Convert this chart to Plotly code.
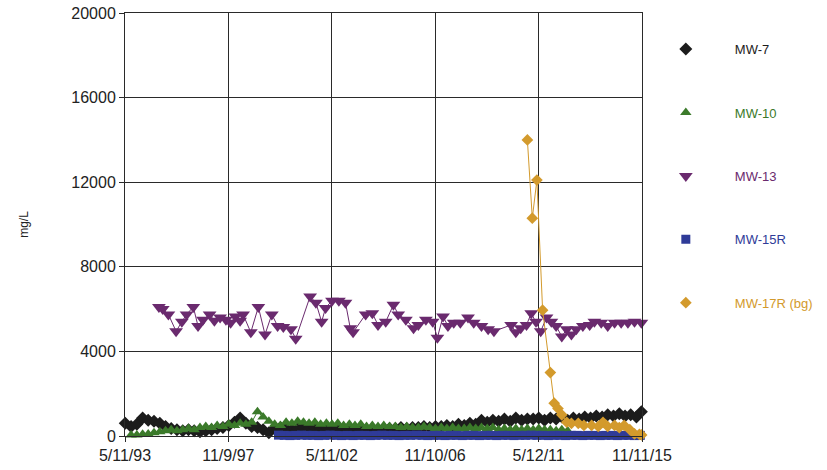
import plotly.graph_objects as go

# ---------------- data ----------------
mw7_dates = [
    "1993-05-15", "1993-08-15", "1993-11-15",
    "1994-02-15", "1994-05-15", "1994-08-15", "1994-11-15",
    "1995-02-15", "1995-05-15", "1995-08-15", "1995-11-15",
    "1996-02-15", "1996-05-15", "1996-08-15", "1996-11-15",
    "1997-02-15", "1997-05-15", "1997-08-15", "1997-11-15",
    "1998-02-15", "1998-05-15", "1998-08-15", "1998-11-15",
    "1999-02-15", "1999-05-15", "1999-08-15", "1999-11-15",
    "2000-02-15", "2000-05-15", "2000-08-15", "2000-11-15",
    "2001-02-15", "2001-05-15", "2001-08-15", "2001-11-15",
    "2002-02-15", "2002-05-15", "2002-08-15", "2002-11-15",
    "2003-02-15", "2003-05-15", "2003-08-15", "2003-11-15",
    "2004-02-15", "2004-05-15", "2004-08-15", "2004-11-15",
    "2005-02-15", "2005-05-15", "2005-08-15", "2005-11-15",
    "2006-02-15", "2006-05-15", "2006-08-15", "2006-11-15",
    "2007-02-15", "2007-05-15", "2007-08-15", "2007-11-15",
    "2008-02-15", "2008-05-15", "2008-08-15", "2008-11-15",
    "2009-02-15", "2009-05-15", "2009-08-15", "2009-11-15",
    "2010-02-15", "2010-05-15", "2010-08-15", "2010-11-15",
    "2011-02-15", "2011-05-15", "2011-08-15", "2011-11-15",
    "2012-02-15", "2012-05-15", "2012-08-15", "2012-11-15",
    "2013-02-15", "2013-05-15", "2013-08-15", "2013-11-15",
    "2014-02-15", "2014-05-15", "2014-08-15", "2014-11-15",
    "2015-02-15", "2015-05-15", "2015-08-15", "2015-11-01",
]
mw7_values = [
    600, 450, 550,
    850, 750, 700, 600,
    450, 350, 300, 250,
    300, 250, 200, 250,
    300, 350, 400, 500,
    650, 850, 600, 450,
    400, 300, 150, 350,
    400, 350, 300, 350,
    400, 350, 400, 350,
    400, 350, 400, 350,
    350, 300, 350, 300,
    350, 300, 350, 350,
    350, 400, 350, 400,
    400, 450, 400, 450,
    450, 500, 450, 550,
    500, 600, 550, 750,
    650, 750, 700, 800,
    700, 850, 750, 800,
    800, 850, 750, 850,
    800, 900, 750, 850,
    800, 900, 850, 950,
    900, 1000, 950, 1050,
    950, 1000, 900, 1150,
]

mw10_dates = [
    "1993-08-15", "1993-11-15",
    "1994-02-15", "1994-05-15", "1994-08-15", "1994-11-15",
    "1995-02-15", "1995-05-15", "1995-08-15", "1995-11-15",
    "1996-02-15", "1996-05-15", "1996-08-15", "1996-11-15",
    "1997-02-15", "1997-05-15", "1997-08-15", "1997-11-15",
    "1998-02-15", "1998-05-15", "1998-08-15", "1998-11-15",
    "1999-02-15", "1999-05-15", "1999-08-15", "1999-11-15",
    "2000-02-15", "2000-05-15", "2000-08-15", "2000-11-15",
    "2001-02-15", "2001-05-15", "2001-08-15", "2001-11-15",
    "2002-02-15", "2002-05-15", "2002-08-15", "2002-11-15",
    "2003-02-15", "2003-05-15", "2003-08-15", "2003-11-15",
    "2004-02-15", "2004-05-15", "2004-08-15", "2004-11-15",
    "2005-02-15", "2005-05-15", "2005-08-15", "2005-11-15",
    "2006-02-15", "2006-05-15", "2006-08-15", "2006-11-15",
    "2007-02-15", "2007-05-15", "2007-08-15", "2007-11-15",
    "2008-02-15", "2008-05-15", "2008-08-15", "2008-11-15",
    "2009-02-15", "2009-05-15", "2009-08-15", "2009-11-15",
    "2010-02-15", "2010-05-15", "2010-08-15", "2010-11-15",
    "2011-02-15", "2011-05-15", "2011-08-15", "2011-11-15",
    "2012-02-15", "2012-05-15", "2012-08-15",
]
mw10_values = [
    50, 50,
    80, 100, 150, 200,
    250, 300, 250, 300,
    350, 300, 400, 450,
    400, 500, 450, 550,
    500, 600, 550, 650,
    1150, 900, 700, 550,
    500, 650, 600, 700,
    650, 600, 650, 550,
    600, 550, 600, 500,
    550, 500, 550, 450,
    500, 450, 500, 450,
    450, 400, 450, 400,
    400, 450, 400, 350,
    400, 350, 400, 350,
    350, 400, 350, 400,
    350, 400, 300, 350,
    300, 350, 300, 350,
    300, 350, 300, 300,
    250, 300, 250,
]

mw13_dates = [
    "1994-11-01", "1995-01-01", "1995-04-01", "1995-08-01", "1995-11-01",
    "1996-01-15", "1996-05-01", "1996-07-15", "1996-10-01", "1997-01-15",
    "1997-04-01", "1997-07-01", "1997-10-01", "1997-12-15", "1998-03-01",
    "1998-05-15", "1998-07-01", "1998-11-01", "1999-03-01", "1999-06-15",
    "1999-10-01", "2000-01-01", "2000-04-01", "2000-08-01", "2000-10-15",
    "2001-06-01", "2001-09-01", "2001-12-01", "2002-02-01", "2002-05-15",
    "2002-09-01", "2002-12-15", "2003-03-01", "2003-04-15", "2003-11-01",
    "2004-02-15", "2004-05-15", "2004-09-15", "2005-01-15", "2005-04-01",
    "2005-08-01", "2005-12-01", "2006-02-15", "2006-06-15", "2006-10-01",
    "2006-12-15", "2007-03-15", "2007-06-01", "2007-09-01", "2007-12-15",
    "2008-04-15", "2008-07-15", "2008-11-15", "2009-03-01", "2009-06-01",
    "2010-03-01", "2010-05-15", "2010-08-01", "2010-11-01", "2011-01-15",
    "2011-04-01", "2011-06-15", "2011-09-15", "2011-12-01", "2012-02-15",
    "2012-05-15", "2012-08-01", "2012-10-15", "2013-01-01", "2013-04-15",
    "2013-08-01", "2013-10-15", "2014-02-01", "2014-05-15", "2014-09-01",
    "2014-12-15", "2015-04-01", "2015-07-15", "2015-11-01",
]
mw13_values = [
    6100, 6000, 5750, 4950, 5400,
    5750, 6100, 5200, 5500, 5750,
    5450, 5600, 5500, 5350, 5650,
    5450, 5750, 4900, 6100, 4800,
    5750, 5200, 5150, 5050, 4600,
    6600, 6300, 5400, 6050, 6400,
    6400, 6300, 5100, 4900, 5750,
    5800, 5250, 5400, 6200, 5750,
    5500, 5100, 5250, 5500, 5400,
    4650, 5650, 5200, 5350, 5350,
    5600, 5350, 5200, 5050, 4950,
    5250, 4900, 5100, 5250, 5800,
    5400, 4950, 5600, 5400, 5200,
    4700, 5050, 4800, 5050, 5200,
    5250, 5400, 5350, 5200, 5350,
    5350, 5350, 5400, 5350,
]

mw15r_dates = [
    "2000-01-15", "2000-04-15", "2000-07-15", "2000-10-15",
    "2001-01-15", "2001-04-15", "2001-07-15", "2001-10-15",
    "2002-01-15", "2002-04-15", "2002-07-15", "2002-10-15",
    "2003-01-15", "2003-04-15", "2003-07-15", "2003-10-15",
    "2004-01-15", "2004-04-15", "2004-07-15", "2004-10-15",
    "2005-01-15", "2005-04-15", "2005-07-15", "2005-10-15",
    "2006-01-15", "2006-04-15", "2006-07-15", "2006-10-15",
    "2007-01-15", "2007-04-15", "2007-07-15", "2007-10-15",
    "2008-01-15", "2008-04-15", "2008-07-15", "2008-10-15",
    "2009-01-15", "2009-04-15", "2009-07-15", "2009-10-15",
    "2010-01-15", "2010-04-15", "2010-07-15", "2010-10-15",
    "2011-01-15", "2011-04-15", "2011-07-15", "2011-10-15",
    "2012-01-15", "2012-04-15", "2012-07-15", "2012-10-15",
    "2013-01-15", "2013-04-15", "2013-07-15", "2013-10-15",
    "2014-01-15", "2014-04-15", "2014-07-15", "2014-10-15",
    "2015-01-15", "2015-04-15", "2015-07-15", "2015-10-15",
]
mw15r_values = [
    40, 30, 20, 30,
    40, 30, 30, 20,
    30, 40, 30, 20,
    30, 20, 30, 30,
    20, 30, 40, 30,
    30, 20, 30, 30,
    40, 30, 20, 30,
    30, 20, 30, 30,
    20, 30, 30, 20,
    30, 30, 20, 30,
    30, 20, 30, 30,
    40, 30, 30, 20,
    30, 30, 20, 30,
    30, 20, 30, 30,
    20, 30, 30, 20,
    30, 30, 20, 30,
]

mw17r_dates = [
    "2010-11-15", "2011-02-01", "2011-04-15", "2011-07-15", "2011-11-15",
    "2012-01-15", "2012-03-15", "2012-05-15", "2012-08-01", "2012-10-15",
    "2013-02-01", "2013-05-01", "2013-09-01", "2013-12-15", "2014-03-01",
    "2014-05-15", "2014-09-01", "2014-11-15", "2015-02-01", "2015-05-01",
    "2015-07-15", "2015-10-01", "2015-11-05",
]
mw17r_values = [
    14000, 10300, 12100, 5950, 3000,
    1550, 1300, 1000, 650, 600,
    600, 500, 500, 450, 650,
    450, 500, 400, 500, 300,
    100, 80, 50,
]

series_names = ["MW-7", "MW-10", "MW-13", "MW-15R", "MW-17R (bg)"]
series_colors = ["#1c1c1c", "#3b7a2a", "#6a2a6e", "#2f3b98", "#d39a2c"]
series_symbols = ["diamond", "triangle-up", "triangle-down", "square", "diamond"]
series_sizes = [10, 10, 12, 9, 9]

x_tick_vals = ["1993-05-11", "1997-11-09", "2002-05-11", "2006-11-10", "2011-05-12", "2015-11-11"]
x_tick_text = ["5/11/93", "11/9/97", "5/11/02", "11/10/06", "5/12/11", "11/11/15"]
y_tick_vals = [0, 4000, 8000, 12000, 16000, 20000]

all_x = [mw7_dates, mw10_dates, mw13_dates, mw15r_dates, mw17r_dates]
all_y = [mw7_values, mw10_values, mw13_values, mw15r_values, mw17r_values]

# ---------------- figure ----------------
fig = go.Figure()
for i, name in enumerate(series_names):
    # connecting line (no legend entry)
    fig.add_trace(go.Scatter(
        x=all_x[i], y=all_y[i],
        mode="lines",
        line=dict(color=series_colors[i], width=1),
        showlegend=False, hoverinfo="skip",
        legendgroup=name,
    ))
    # markers (legend entry shows marker only, like the reference)
    fig.add_trace(go.Scatter(
        x=all_x[i], y=all_y[i],
        mode="markers",
        name=f"<span style='color:{series_colors[i]}'>{name}</span>",
        legendgroup=name,
        marker=dict(symbol=series_symbols[i], size=series_sizes[i], color=series_colors[i]),
        cliponaxis=False,
    ))

fig.update_layout(
    width=827, height=470,
    margin=dict(l=125, r=185, t=13, b=34, autoexpand=False),
    paper_bgcolor="white", plot_bgcolor="white",
    font=dict(family="Liberation Sans, Arial, sans-serif", color="#222"),
    showlegend=True,
    legend=dict(
        x=0.990, y=0.950, xanchor="left", yanchor="top",
        font=dict(size=13),
        tracegroupgap=43.5,
        itemwidth=88,
        bgcolor="rgba(0,0,0,0)",
    ),
    xaxis=dict(
        type="date",
        range=["1993-05-11", "2015-11-11"],
        tickmode="array", tickvals=x_tick_vals, ticktext=x_tick_text,
        showgrid=True, gridcolor="#2a2a2a", gridwidth=1,
        showline=True, linecolor="#2a2a2a", linewidth=1, mirror=True,
        ticks="outside", ticklen=5, tickcolor="#2a2a2a",
        tickfont=dict(size=16, color="#222"),
        zeroline=False, automargin=False,
    ),
    yaxis=dict(
        range=[0, 20000],
        tickmode="array", tickvals=y_tick_vals, tickformat="d",
        showgrid=True, gridcolor="#2a2a2a", gridwidth=1,
        showline=True, linecolor="#2a2a2a", linewidth=1, mirror=True,
        ticks="outside", ticklen=5, tickcolor="#2a2a2a",
        tickfont=dict(size=16, color="#222"),
        title=dict(text="mg/L", font=dict(size=12, color="#222"), standoff=40),
        zeroline=False, automargin=False,
    ),
)

fig.write_html(
    "out.html",
    config={"displayModeBar": False},
    post_script="document.body.style.margin='0';",
)
